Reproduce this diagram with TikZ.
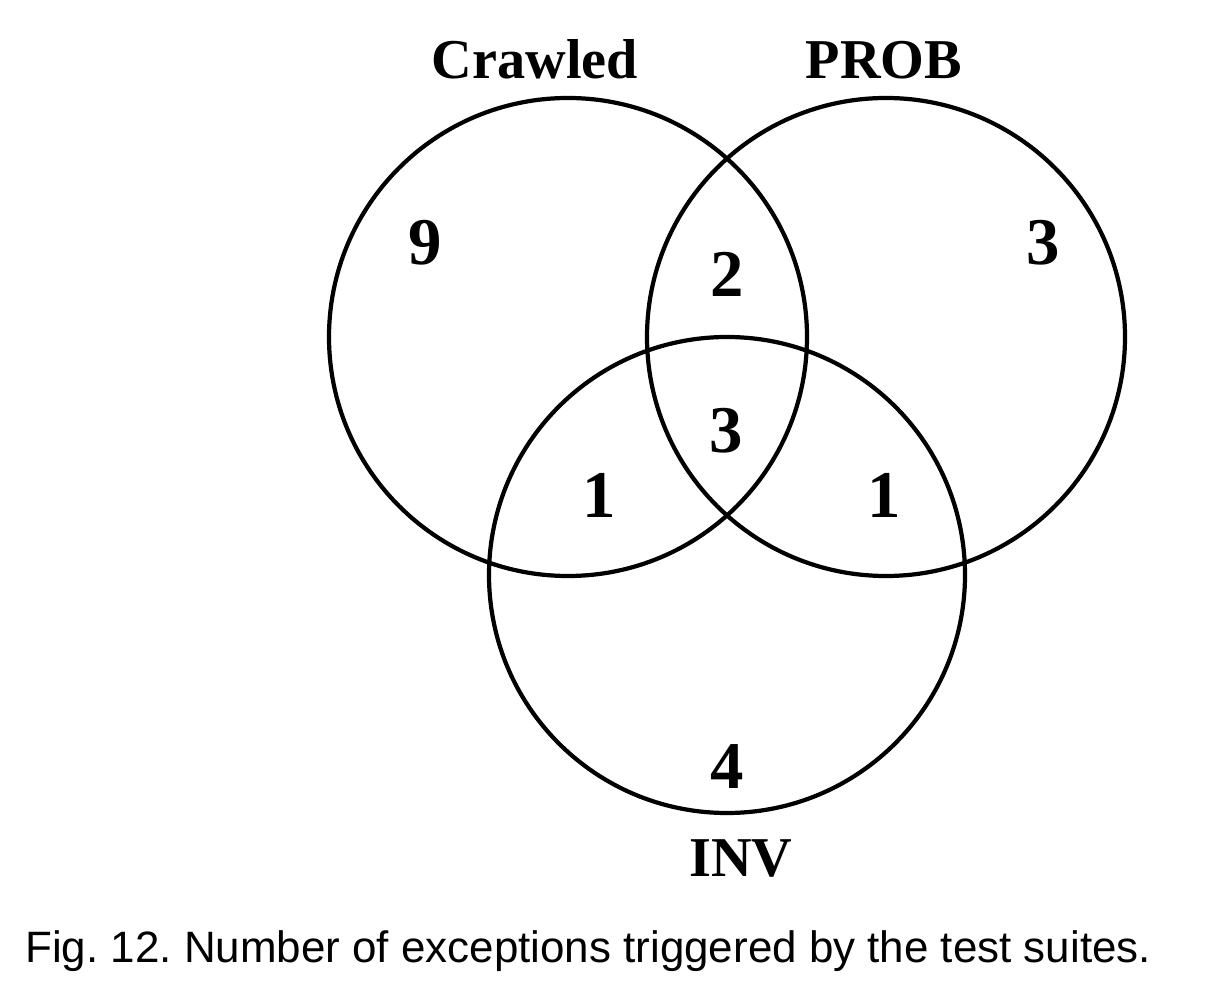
\documentclass[tikz,border=0pt]{standalone}
\usepackage{fontspec}
\setmainfont{Liberation Serif}
\setsansfont{Liberation Sans}
\usetikzlibrary{calc}
\frenchspacing
\tikzset{
  ring/.style={line width=2.4pt},
  setname/.style={anchor=base, font=\fontsize{32}{32}\selectfont\bfseries},
  count/.style={anchor=base, font=\fontsize{38}{38}\selectfont\bfseries},
}

\begin{document}
\begin{tikzpicture}
\useasboundingbox (0,0) rectangle (24.64,-20.16);
\coordinate (C) at (11.36,-6.74);
\coordinate (P) at (17.72,-6.74);
\coordinate (I) at (14.54,-11.5);
\draw[ring] (C) circle (4.78);
\draw[ring] (P) circle (4.78);
\draw[ring] (I) circle (4.76);
\node[setname] (crawled) at (10.7,-1.58) {Crawled};
\node[setname] (prob) at (17.68,-1.58) {PROB};
\node[setname] (inv) at (14.82,-17.54) {INV};
\node[count] (onlyC) at (8.5,-5.3) {9};
\node[count] (onlyP) at (20.86,-5.3) {3};
\node[count] (CP) at (14.54,-5.94) {2};
\node[count] (CPI) at (14.52,-9.06) {3};
\node[count] (CI) at (11.98,-10.36) {1};
\node[count] (PI) at (17.68,-10.36) {1};
\node[count] (onlyI) at (14.54,-15.78) {4};
\node[anchor=base west, inner sep=0pt, font=\sffamily\fontsize{25}{25}\selectfont] (caption) at (0.5,-19.24) {Fig. 12. Number of exceptions triggered by the test suites.};
\end{tikzpicture}
\end{document}
